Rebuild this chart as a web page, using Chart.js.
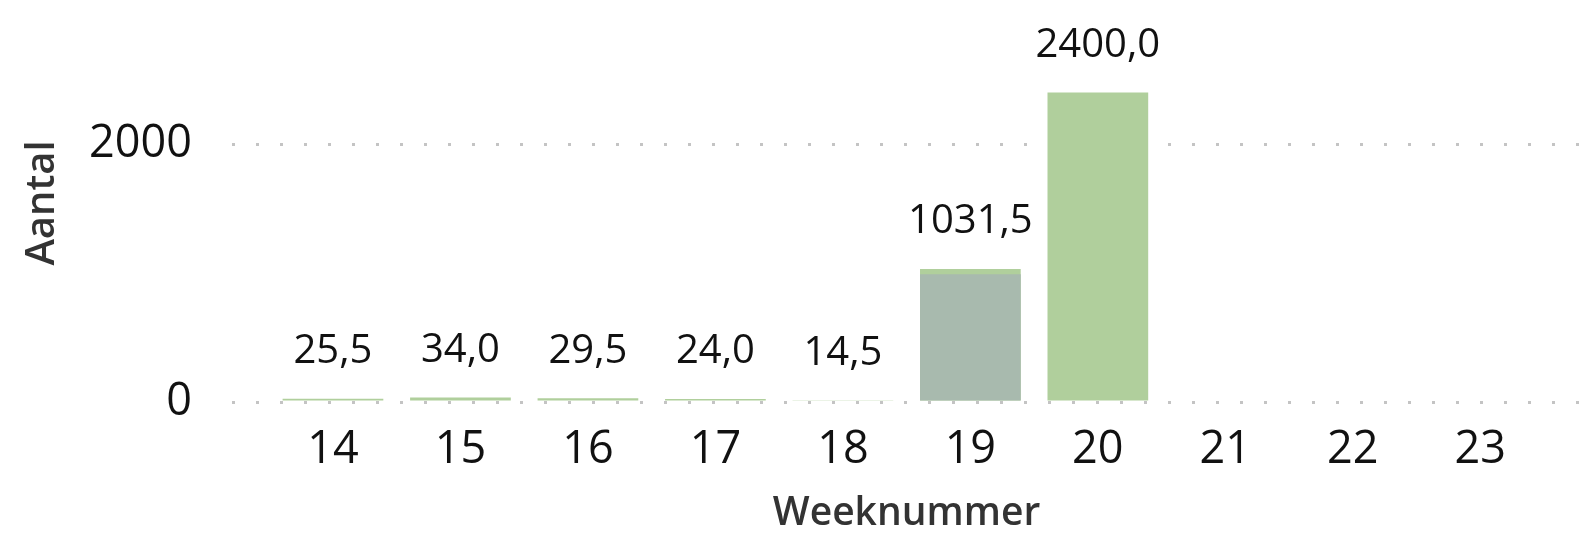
<!DOCTYPE html>
<html>
<head>
    <title>Aantal per week</title>
    <script src="https://cdn.jsdelivr.net/npm/chart.js"></script>
    <style>
        body {
            margin: 0;
            padding: 0;
            background-color: #fff;
        }
        .wrap {
            width: 1581px;
            height: 537px;
        }
    </style>
</head>
<body>

<div class="wrap">
    <canvas id="weekChart" width="1581" height="537"></canvas>
</div>

<script>
    const weeks = [14, 15, 16, 17, 18, 19, 20, 21, 22, 23];
    const totals = [25.5, 34.0, 29.5, 24.0, 14.5, 1031.5, 2400.0, null, null, null];
    const greyPart = [null, null, null, null, null, 990, null, null, null, null];
    const yTicks = [0, 2000];

    const green = '#b0cf9c';
    const grey = '#a8baae';
    const fontFam = '"Open Sans", "Noto Sans", sans-serif';

    const toPoints = (arr) => weeks.map((w, i) => ({ x: w, y: arr[i] })).filter(p => p.y !== null);

    // waardes boven de balken
    const valueLabels = {
        id: 'valueLabels',
        afterDatasetsDraw(chart) {
            const ctx = chart.ctx;
            const meta = chart.getDatasetMeta(0);
            const pts = toPoints(totals);
            ctx.save();
            ctx.font = '40px ' + fontFam;
            ctx.fillStyle = '#111';
            ctx.textAlign = 'center';
            ctx.textBaseline = 'middle';
            meta.data.forEach((bar, i) => {
                const txt = pts[i].y.toFixed(1).replace('.', ',');
                ctx.fillText(txt, bar.x, bar.y - 47);
            });
            ctx.restore();
        }
    };

    // y-as titel
    const yTitle = {
        id: 'yTitle',
        afterDraw(chart) {
            const ctx = chart.ctx;
            ctx.save();
            ctx.translate(43, 203);
            ctx.rotate(-Math.PI / 2);
            ctx.font = '600 40px ' + fontFam;
            ctx.fillStyle = '#333';
            ctx.textAlign = 'center';
            ctx.textBaseline = 'middle';
            ctx.fillText('Aantal', 0, 0);
            ctx.restore();
        }
    };

    const ctx = document.getElementById('weekChart').getContext('2d');
    const weekChart = new Chart(ctx, {
        type: 'bar',
        data: {
            datasets: [{
                label: 'Aantal',
                data: toPoints(totals),
                backgroundColor: green,
                grouped: false,
                order: 2,
                categoryPercentage: 1,
                barPercentage: 0.79
            }, {
                label: 'Deel',
                data: toPoints(greyPart),
                backgroundColor: grey,
                grouped: false,
                order: 1,
                categoryPercentage: 1,
                barPercentage: 0.79
            }]
        },
        options: {
            responsive: false,
            animation: false,
            layout: { padding: { top: 28, left: 0, right: 0, bottom: 0 } },
            plugins: {
                legend: { display: false },
                tooltip: { enabled: false }
            },
            scales: {
                x: {
                    type: 'linear',
                    offset: false,
                    min: 13.208,
                    max: 23.79,
                    grid: { display: false },
                    border: { display: false },
                    afterBuildTicks: (scale) => { scale.ticks = weeks.map(v => ({ value: v })); },
                    afterFit: (scale) => {
                        scale.height = 135;
                        scale.paddingLeft = 0;
                        scale.paddingRight = 0;
                    },
                    ticks: {
                        padding: 13,
                        color: '#111',
                        font: { family: fontFam, size: 45 },
                        callback: (v) => String(v)
                    },
                    title: {
                        display: true,
                        text: 'Weeknummer',
                        color: '#333',
                        font: { family: fontFam, size: 39, weight: '600' },
                        padding: { top: 0, bottom: 0 }
                    }
                },
                y: {
                    min: 0,
                    max: 2900,
                    afterBuildTicks: (scale) => { scale.ticks = yTicks.map(v => ({ value: v })); },
                    afterFit: (scale) => {
                        scale.width = 232;
                        scale.paddingTop = 0;
                        scale.paddingBottom = 0;
                    },
                    border: { display: false, dash: [3, 21] },
                    grid: {
                        drawTicks: false,
                        color: '#c4c4c4',
                        lineWidth: 3
                    },
                    ticks: {
                        padding: 40,
                        color: '#111',
                        font: { family: fontFam, size: 45 },
                        callback: (v) => String(v)
                    }
                }
            }
        },
        plugins: [valueLabels, yTitle]
    });
</script>

</body>
</html>
